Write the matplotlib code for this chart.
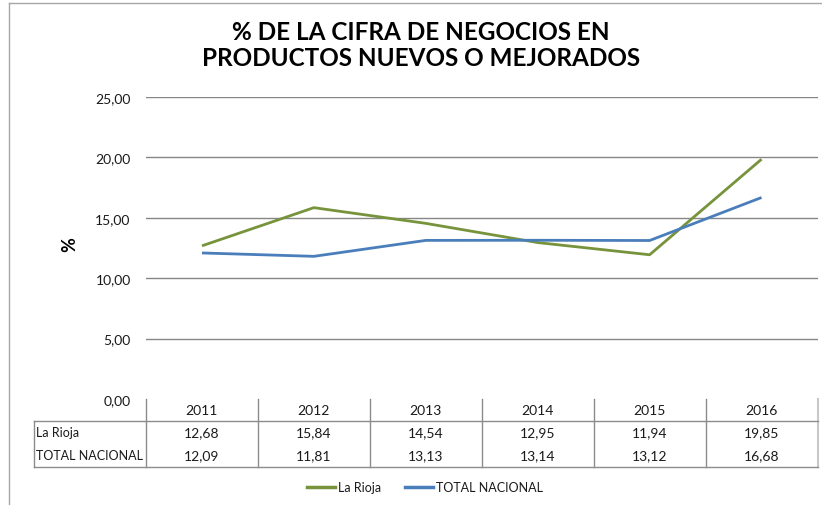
import matplotlib
matplotlib.use("Agg")
import matplotlib.pyplot as plt
from matplotlib.transforms import blended_transform_factory

years = ["2011", "2012", "2013", "2014", "2015", "2016"]
la_rioja = [12.68, 15.84, 14.54, 12.95, 11.94, 19.85]
total_nacional = [12.09, 11.81, 13.13, 13.14, 13.12, 16.68]
series_names = ["La Rioja", "TOTAL NACIONAL"]
yticks = [0, 5, 10, 15, 20, 25]
title_lines = ["% DE LA CIFRA DE NEGOCIOS EN", "PRODUCTOS NUEVOS O MEJORADOS"]

GREEN = "#77933C"
BLUE = "#4A7EBB"
GRID = "#868686"
TXT = "#1a1a1a"
FONT = "Lato"

def fmt(v):
    return f"{v:.2f}".replace(".", ",")

W, H = 822, 506
fig = plt.figure(figsize=(W / 100, H / 100), dpi=100)
fig.patch.set_facecolor("white")

# overlay in pixel coords
ov = fig.add_axes([0, 0, 1, 1], zorder=0)
ov.set_xlim(0, W)
ov.set_ylim(H, 0)
ov.axis("off")

L, R, T, B = 146, 817.5, 98, 400
ax = fig.add_axes([L / W, (H - B) / H, (R - L) / W, (B - T) / H], zorder=1)
ax.patch.set_alpha(0)
x = list(range(len(years)))
ax.set_xlim(-0.5, len(years) - 0.5)
ax.set_ylim(0, 25)
for s in ax.spines.values():
    s.set_visible(False)
ax.set_xticks([])
ax.set_yticks(yticks)
ax.set_yticklabels([fmt(v) for v in yticks], fontfamily=FONT, fontsize=10, color=TXT)
ax.tick_params(axis="y", length=0, pad=11)
for v in yticks[1:]:
    ax.axhline(v, color=GRID, lw=1.0, zorder=1)

ax.plot(x, la_rioja, color=GREEN, lw=2.0, solid_capstyle="butt", zorder=3)
ax.plot(x, total_nacional, color=BLUE, lw=2.0, solid_capstyle="butt", zorder=3)

# y axis label
ov.text(70, 245, "%", rotation=90, ha="center", va="center", fontfamily=FONT,
        fontweight="bold", fontsize=13, color="black")

# title
for line, yy in zip(title_lines, [32, 58]):
    ov.text(421, yy, line, ha="center", va="center", fontfamily=FONT,
            fontweight="bold", fontsize=17.5, color="black")

# chart frame
ov.plot([9, W + 5], [4, 4], color="#A6A6A6", lw=1.0)
ov.plot([9, 9], [4, H + 5], color="#A6A6A6", lw=1.0)

# data table
bt = blended_transform_factory(ax.transData, ov.transData)
LINE = "#8C8C8C"
LIGHT = "#C8C8C8"
head_top, row_top, row_bot = 400, 422, 468
row_y = [433.5, 456]
header_y = 411
n = len(years)
for i in range(n):
    ov.plot([i - 0.5, i - 0.5], [head_top, row_bot], color=LINE, lw=1.0, transform=bt)
ov.plot([n - 0.5, n - 0.5], [head_top, row_bot], color=LIGHT, lw=1.5, transform=bt)
for i, yr in enumerate(years):
    ov.text(i, header_y, yr, transform=bt, ha="center", va="center", fontfamily=FONT,
            fontsize=10, color=TXT)
ov.plot([34, R], [row_top, row_top], color=LINE, lw=1.0)
ov.plot([34, R], [row_bot, row_bot], color=LINE, lw=1.0)
ov.plot([34, 34], [row_top, row_bot], color=LINE, lw=1.0)
for name, vals, yy in zip(series_names, [la_rioja, total_nacional], row_y):
    ov.text(36, yy, name, ha="left", va="center", fontfamily=FONT, fontsize=9, color=TXT)
    for i, v in enumerate(vals):
        ov.text(i, yy, fmt(v), transform=bt, ha="center", va="center", fontfamily=FONT,
                fontsize=10, color=TXT)

# legend
ov.plot([307, 335], [488, 488], color=GREEN, lw=2.5)
ov.text(338, 488, series_names[0], ha="left", va="center", fontfamily=FONT, fontsize=9, color=TXT)
ov.plot([405, 433], [488, 488], color=BLUE, lw=2.5)
ov.text(436, 488, series_names[1], ha="left", va="center", fontfamily=FONT, fontsize=9, color=TXT)

fig.savefig("out.png", dpi=100, facecolor="white")
